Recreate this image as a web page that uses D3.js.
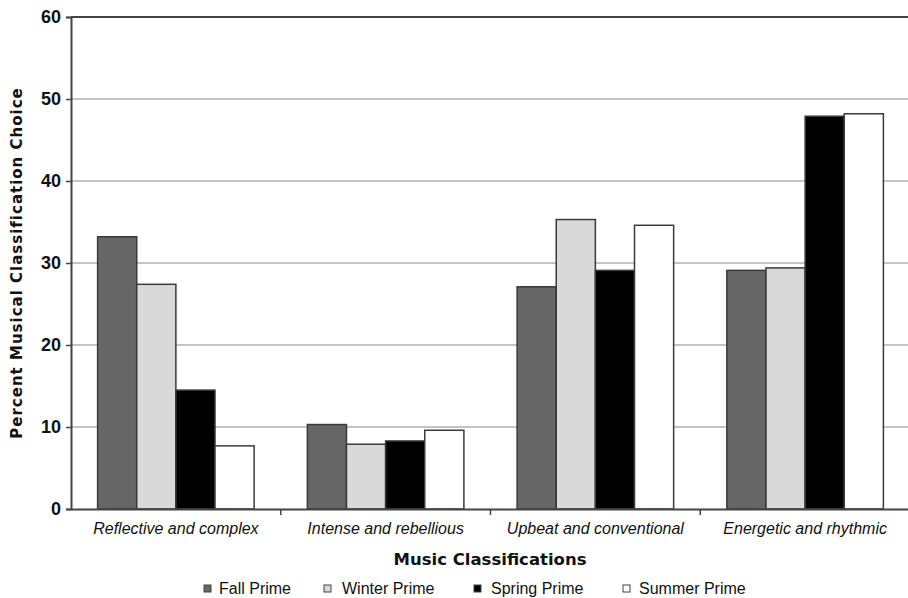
<!DOCTYPE html>
<html>
<head>
<meta charset="utf-8">
<script src="https://cdn.jsdelivr.net/npm/d3@7"></script>
<style>
  body { margin: 0; background: #fff; }
  text { font-family: "Liberation Sans", Arial, sans-serif; }
</style>
</head>
<body>
<div id="chart"></div>
<script>
const categories = ['Reflective and complex', 'Intense and rebellious', 'Upbeat and conventional', 'Energetic and rhythmic'];
const seasons = ['Fall Prime', 'Winter Prime', 'Spring Prime', 'Summer Prime'];
const fallValues = [33.2, 10.3, 27.1, 29.1];
const winterValues = [27.4, 7.9, 35.3, 29.4];
const springValues = [14.5, 8.3, 29.1, 47.9];
const summerValues = [7.7, 9.6, 34.6, 48.2];
const yTicks = [0, 10, 20, 30, 40, 50, 60];

const seasonColors = {
    'Fall Prime': '#666666',
    'Winter Prime': '#d9d9d9',
    'Spring Prime': '#000000',
    'Summer Prime': '#ffffff'
};

const seriesValues = [fallValues, winterValues, springValues, summerValues];

const width = 908, height = 598;
const margin = { left: 71, top: 17, right: -2, bottom: 89 };

const svg = d3.select('#chart').append('svg')
    .attr('width', width)
    .attr('height', height);

const x0 = d3.scaleBand()
    .domain(categories)
    .range([margin.left, width - margin.right])
    .paddingInner(0)
    .paddingOuter(0);

const x1 = d3.scaleBand()
    .domain(seasons)
    .range([0, x0.bandwidth()])
    .paddingOuter(0.68)
    .paddingInner(0);

const y = d3.scaleLinear()
    .domain([0, 60])
    .range([height - margin.bottom, margin.top]);

// gridlines
svg.append('g')
    .selectAll('line')
    .data(yTicks.filter(d => d > 0 && d < 60))
    .enter()
    .append('line')
    .attr('x1', margin.left)
    .attr('x2', width)
    .attr('y1', d => y(d))
    .attr('y2', d => y(d))
    .attr('stroke', '#b0b0b0')
    .attr('stroke-width', 1.5);

// top border line
svg.append('line')
    .attr('x1', margin.left).attr('x2', width)
    .attr('y1', y(60)).attr('y2', y(60))
    .attr('stroke', '#444').attr('stroke-width', 2);

// bars
const groups = svg.append('g')
    .selectAll('g')
    .data(categories)
    .enter()
    .append('g')
    .attr('transform', d => `translate(${x0(d)},0)`);

groups.selectAll('rect')
    .data((d, i) => seasons.map((s, j) => ({ season: s, value: seriesValues[j][i] })))
    .enter()
    .append('rect')
    .attr('x', d => x1(d.season))
    .attr('width', x1.bandwidth())
    .attr('y', d => y(d.value))
    .attr('height', d => y(0) - y(d.value))
    .attr('fill', d => seasonColors[d.season])
    .attr('stroke', '#3a3a3a')
    .attr('stroke-width', 1.5);

// y axis
const yAxis = svg.append('g')
    .attr('transform', `translate(${margin.left},0)`)
    .call(d3.axisLeft(y).tickValues(yTicks).tickSize(5).tickPadding(5));
yAxis.select('.domain').attr('stroke', '#444').attr('stroke-width', 2);
yAxis.selectAll('.tick line').attr('stroke', '#444').attr('stroke-width', 1.5);
yAxis.selectAll('.tick text')
    .attr('font-size', 18)
    .attr('font-weight', 'bold')
    .attr('fill', '#111');

// x axis
const xAxis = svg.append('g')
    .attr('transform', `translate(0,${y(0)})`)
    .call(d3.axisBottom(x0).tickSize(0).tickPadding(14));
xAxis.select('.domain').attr('stroke', '#444').attr('stroke-width', 2);
xAxis.selectAll('.tick text')
    .attr('font-size', 16)
    .attr('font-style', 'italic')
    .attr('fill', '#111');

// category boundary ticks
svg.append('g')
    .selectAll('line')
    .data(categories.slice(1))
    .enter()
    .append('line')
    .attr('x1', d => x0(d)).attr('x2', d => x0(d))
    .attr('y1', y(0)).attr('y2', y(0) + 6)
    .attr('stroke', '#444').attr('stroke-width', 1.5);

// axis titles
svg.append('text')
    .attr('transform', `translate(22,${(y(0) + y(60)) / 2}) rotate(-90)`)
    .attr('text-anchor', 'middle')
    .attr('font-size', 15)
    .attr('font-weight', 'bold')
    .attr('letter-spacing', 1)
    .attr('fill', '#111')
    .style('font-family', '"DejaVu Sans", sans-serif')
    .text('Percent Musical Classification  Choice');

svg.append('text')
    .attr('x', 490)
    .attr('y', 565)
    .attr('text-anchor', 'middle')
    .attr('font-size', 16.5)
    .attr('font-weight', 'bold')
    .attr('fill', '#111')
    .style('font-family', '"DejaVu Sans", sans-serif')
    .text('Music Classifications');

// legend
const legendX = [204, 324, 474, 623];
const legendTextX = [219, 342, 491, 639];
const legend = svg.append('g')
    .selectAll('g')
    .data(seasons)
    .enter()
    .append('g');

legend.append('rect')
    .attr('x', (d, i) => legendX[i]).attr('y', 585)
    .attr('width', 7).attr('height', 7)
    .attr('fill', d => seasonColors[d])
    .attr('stroke', '#444')
    .attr('stroke-width', 1);

legend.append('text')
    .attr('x', (d, i) => legendTextX[i])
    .attr('y', 594)
    .attr('font-size', 16)
    .attr('fill', '#111')
    .text(d => d);
</script>
</body>
</html>
